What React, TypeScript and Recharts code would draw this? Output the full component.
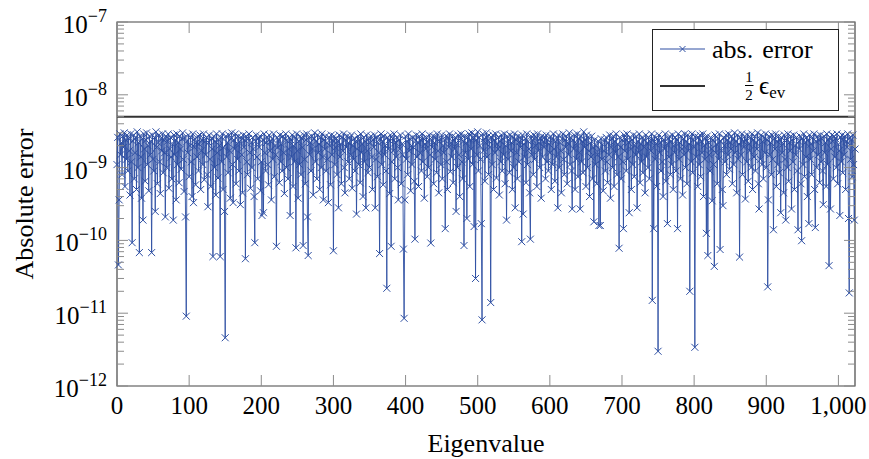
import { LineChart, Line, XAxis, YAxis, ReferenceLine, ReferenceArea, Legend } from "recharts";

// absolute error per eigenvalue (index 0..1023), in units of 1e-9
const errBlock0 = [
  1.1, 2.6, 0.046, 0.36, 2.9, 1.5, 2.2, 0.8, 2.7, 1.9, 3.0, 0.55, 2.4, 1.3, 2.8, 0.9,
  2.5, 1.7, 0.42, 2.9, 1.2, 0.093, 2.3, 2.8, 0.7, 1.6, 2.6, 0.5, 3.1, 1.0, 2.2, 0.068,
  2.7, 1.4, 0.38, 2.5, 0.19, 2.9, 1.8, 0.65, 2.4, 3.0, 1.1, 2.0, 0.48, 2.7, 1.5, 2.3,
  0.068, 2.8, 1.3, 0.9, 2.6, 0.25, 3.1, 1.9, 0.6, 2.2, 2.8, 1.2, 0.44, 2.5, 1.7, 2.9,
  0.85, 2.4, 1.6, 0.21, 2.7, 1.0, 2.3, 2.9, 0.52, 1.8, 2.6, 1.4, 0.7, 2.1, 0.19, 2.8,
  1.5, 2.4, 0.36, 2.9, 1.1, 2.2, 0.62, 2.7, 1.8, 0.95, 2.5, 3.0, 1.3, 0.47, 2.6, 0.21,
  0.0091, 2.3, 1.6, 2.8, 0.75, 2.0, 2.6, 1.2, 0.4, 2.9, 0.33, 1.9, 2.5, 0.58, 2.2, 1.4,
  2.7, 0.9, 2.1, 2.8, 0.5, 1.7, 2.4, 1.1, 2.9, 0.68, 2.3, 1.5, 2.6, 0.8, 0.29, 2.2,
];
const errBlock1 = [
  2.8, 1.3, 0.55, 2.5, 1.8, 0.06, 2.7, 1.0, 2.3, 0.42, 2.9, 1.6, 0.72, 2.4, 2.0, 0.06,
  2.6, 1.2, 2.9, 0.5, 1.9, 0.25, 0.0046, 2.7, 1.4, 2.2, 0.85, 2.8, 1.7, 0.38, 2.5, 3.0,
  1.1, 0.33, 2.4, 1.8, 2.9, 0.6, 2.1, 1.3, 2.7, 0.9, 2.3, 0.31, 2.6, 1.5, 0.45, 2.8,
  1.9, 2.4, 0.056, 2.7, 1.2, 0.8, 2.5, 2.9, 1.6, 0.52, 2.2, 1.0, 2.6, 1.8, 0.4, 0.093,
  2.3, 2.8, 1.4, 0.7, 2.5, 1.9, 2.7, 0.48, 1.2, 0.22, 2.4, 0.24, 2.9, 1.6, 0.9, 2.2,
  2.6, 1.1, 0.58, 2.8, 1.7, 2.3, 0.36, 2.5, 1.3, 2.9, 0.75, 2.0, 1.5, 0.083, 2.6, 1.9,
  2.4, 0.62, 2.8, 1.2, 2.1, 0.9, 2.7, 1.6, 0.44, 2.5, 2.9, 1.0, 2.3, 0.7, 1.8, 2.6,
  0.22, 2.4, 1.4, 2.8, 0.55, 2.0, 1.2, 2.6, 0.079, 2.9, 1.7, 0.38, 2.3, 1.1, 2.7, 0.8,
];
const errBlock2 = [
  2.5, 1.9, 0.085, 2.8, 1.3, 0.6, 2.4, 2.9, 0.21, 0.062, 2.6, 1.5, 2.2, 0.9, 2.7, 1.8,
  0.42, 2.5, 3.0, 1.2, 2.3, 0.7, 2.8, 1.6, 2.1, 0.5, 2.6, 1.0, 2.9, 1.4, 0.36, 2.4,
  1.8, 2.7, 0.9, 2.2, 1.3, 0.33, 2.6, 2.0, 0.58, 2.8, 1.5, 2.4, 0.072, 2.7, 1.1, 1.9,
  2.5, 0.8, 2.3, 0.28, 2.8, 1.4, 2.1, 0.6, 2.6, 1.7, 2.9, 1.0, 0.45, 2.4, 1.9, 2.7,
  1.2, 2.2, 0.7, 2.6, 1.5, 2.8, 0.52, 2.0, 1.3, 2.5, 0.9, 2.3, 0.23, 1.8, 2.7, 1.1,
  2.4, 0.62, 2.9, 1.6, 2.1, 0.4, 2.6, 1.2, 2.3, 0.28, 2.8, 1.7, 0.85, 2.5, 1.0, 2.2,
  2.7, 1.4, 0.5, 2.4, 1.9, 2.8, 0.28, 1.3, 2.6, 0.75, 2.2, 1.6, 0.066, 2.5, 2.9, 1.1,
  2.3, 0.58, 2.7, 1.5, 2.0, 0.9, 0.022, 2.6, 1.8, 2.4, 0.44, 2.8, 0.083, 1.2, 2.5, 1.7,
];
const errBlock3 = [
  2.9, 0.7, 2.2, 1.4, 2.6, 1.0, 0.36, 2.4, 1.8, 2.8, 0.6, 2.1, 1.5, 0.076, 0.0085, 0.36,
  2.7, 1.3, 2.3, 0.8, 2.9, 1.7, 2.5, 0.48, 2.0, 1.1, 2.6, 1.9, 0.65, 0.104, 2.4, 2.8,
  1.4, 2.2, 0.55, 2.7, 1.6, 2.4, 0.9, 2.9, 1.2, 2.5, 0.38, 2.1, 1.8, 2.6, 0.75, 2.3,
  1.0, 2.8, 1.5, 0.092, 2.4, 1.9, 2.7, 0.6, 2.2, 1.3, 2.6, 0.85, 2.9, 1.7, 0.45, 2.3,
  2.5, 1.1, 2.8, 0.7, 2.0, 1.6, 2.4, 0.145, 2.7, 1.2, 0.5, 2.6, 1.9, 2.9, 0.88, 2.2,
  1.4, 2.7, 0.62, 2.4, 1.8, 2.6, 0.25, 2.1, 1.0, 2.8, 1.5, 0.4, 2.5, 2.9, 1.2, 0.7,
  2.3, 0.085, 2.7, 1.6, 2.2, 0.2, 2.6, 1.3, 2.9, 0.55, 2.4, 1.8, 3.0, 1.1, 2.5, 0.155,
  2.8, 0.03, 2.4, 1.5, 3.1, 0.9, 2.6, 2.0, 1.3, 0.17, 0.0081, 2.9, 1.7, 2.5, 0.65, 2.2,
];
const errBlock4 = [
  3.0, 1.4, 2.7, 0.8, 2.3, 1.9, 0.014, 2.6, 1.1, 2.8, 0.5, 2.4, 1.6, 2.9, 0.72, 2.1,
  1.8, 2.6, 0.42, 2.3, 1.2, 2.8, 0.9, 2.5, 1.5, 2.9, 0.6, 2.0, 0.19, 2.7, 1.3, 2.4,
  0.85, 2.8, 1.7, 2.2, 0.5, 2.6, 1.0, 2.9, 0.28, 2.4, 1.6, 0.7, 2.7, 1.2, 2.3, 1.9,
  2.6, 0.096, 2.8, 0.23, 2.1, 1.4, 2.5, 0.62, 2.9, 1.1, 2.3, 1.8, 0.45, 0.104, 2.7, 1.5,
  2.4, 0.8, 2.8, 1.3, 2.0, 2.6, 0.55, 2.9, 1.7, 2.2, 1.0, 2.5, 0.38, 2.7, 1.4, 2.3,
  1.9, 2.6, 0.7, 2.8, 1.2, 2.4, 0.9, 2.1, 1.6, 2.7, 0.5, 2.5, 1.1, 2.9, 1.8, 0.65,
  2.3, 1.4, 2.6, 0.28, 2.8, 1.0, 2.2, 1.7, 0.45, 2.5, 2.9, 1.3, 0.8, 2.4, 1.9, 2.7,
  0.6, 2.2, 1.5, 3.0, 1.1, 2.6, 0.9, 0.27, 2.4, 1.8, 2.8, 0.5, 2.1, 1.3, 2.9, 0.75,
];
const errBlock5 = [
  2.5, 1.6, 0.27, 2.7, 1.2, 2.3, 0.85, 3.1, 1.9, 2.4, 0.55, 2.8, 1.0, 2.6, 1.7, 0.4,
  2.2, 1.4, 2.7, 0.7, 1.9, 0.18, 2.4, 1.1, 2.0, 0.6, 1.5, 2.3, 0.16, 1.8, 0.16, 2.5,
  1.3, 2.1, 0.48, 1.7, 2.4, 0.9, 2.6, 1.2, 0.62, 2.2, 1.5, 2.8, 0.38, 1.9, 2.5, 1.0,
  2.7, 0.55, 2.3, 1.6, 2.9, 0.8, 2.1, 1.4, 0.078, 2.6, 1.9, 0.7, 2.4, 1.2, 0.145, 2.8,
  1.7, 2.5, 0.9, 2.9, 1.3, 2.2, 0.24, 2.6, 1.8, 0.5, 2.4, 1.1, 2.8, 0.75, 2.0, 1.5,
  2.7, 0.28, 2.3, 1.6, 2.9, 0.62, 2.1, 1.2, 2.6, 0.85, 2.4, 1.9, 0.45, 2.8, 1.4, 2.2,
  1.0, 2.6, 0.7, 2.3, 1.7, 2.9, 0.015, 2.4, 0.145, 2.7, 1.3, 2.1, 0.55, 2.5, 0.003, 2.8,
  1.6, 2.2, 0.9, 2.6, 1.2, 0.4, 2.4, 1.8, 2.9, 0.65, 2.1, 0.17, 2.5, 1.4, 2.7, 0.8,
];
const errBlock6 = [
  2.3, 1.1, 2.8, 0.5, 2.0, 1.6, 2.6, 0.9, 2.4, 0.145, 2.9, 1.3, 2.2, 0.7, 2.7, 1.8,
  0.42, 2.5, 1.5, 2.9, 1.0, 2.3, 0.6, 2.8, 1.7, 2.1, 0.02, 2.6, 1.2, 2.9, 0.85, 2.4,
  1.9, 0.0034, 2.7, 1.4, 2.2, 0.55, 2.6, 1.1, 2.8, 0.75, 2.3, 1.6, 2.9, 0.4, 2.0, 1.3,
  2.5, 0.125, 2.7, 0.062, 2.2, 1.5, 0.9, 2.6, 1.8, 0.35, 2.4, 1.1, 0.044, 2.8, 1.6, 2.1,
  0.6, 2.5, 1.3, 2.9, 0.075, 2.3, 1.7, 0.5, 0.3, 2.6, 2.0, 1.2, 2.8, 0.8, 2.4, 1.5,
  2.9, 0.95, 2.2, 1.8, 2.7, 0.6, 2.5, 1.1, 3.0, 1.6, 2.3, 0.45, 2.8, 1.3, 2.1, 0.059,
  2.6, 1.5, 2.9, 0.8, 2.3, 1.9, 2.7, 0.37, 2.4, 1.2, 2.8, 0.65, 2.1, 1.7, 2.6, 1.0,
  2.9, 0.5, 2.4, 1.4, 2.7, 0.9, 2.2, 1.8, 3.0, 0.6, 0.27, 2.5, 1.3, 2.8, 1.1, 2.3,
];
const errBlock7 = [
  0.7, 2.6, 1.6, 2.9, 1.0, 2.4, 0.023, 0.36, 2.7, 1.5, 2.2, 0.8, 2.8, 1.3, 0.14, 2.5,
  1.8, 2.9, 0.55, 2.3, 1.1, 2.7, 0.85, 2.4, 0.24, 2.6, 1.6, 2.1, 0.45, 2.8, 1.3, 0.19,
  2.5, 1.0, 2.9, 0.65, 2.2, 1.7, 2.7, 0.27, 2.4, 1.2, 2.8, 0.5, 2.0, 1.5, 2.6, 0.9,
  0.14, 2.3, 1.8, 2.7, 0.6, 0.099, 2.5, 1.1, 2.9, 0.75, 2.2, 1.4, 2.6, 0.4, 2.4, 0.17,
  2.8, 1.3, 2.1, 0.8, 2.6, 1.7, 2.9, 0.5, 0.15, 2.3, 1.0, 2.7, 1.5, 2.4, 0.62, 2.8,
  1.2, 2.5, 0.9, 0.31, 2.7, 1.6, 2.2, 0.55, 2.9, 1.1, 2.4, 0.045, 2.6, 0.27, 1.8, 2.8,
  2.3, 0.7, 2.7, 1.4, 2.5, 1.0, 2.9, 0.6, 2.1, 1.7, 0.22, 2.6, 1.2, 2.8, 0.85, 2.4,
  1.5, 2.7, 0.5, 2.3, 1.9, 2.9, 0.2, 0.019, 2.6, 1.3, 2.4, 0.75, 2.8, 1.1, 0.19, 1.8,
];

const halfEpsEv = 5e-9;
const xTicks = [0, 100, 200, 300, 400, 500, 600, 700, 800, 900, 1000];
const yDecades = [1e-12, 1e-11, 1e-10, 1e-9, 1e-8, 1e-7];
const yMinorSteps = [2, 3, 4, 5, 6, 7, 8, 9];

const errors = [
  ...errBlock0, ...errBlock1, ...errBlock2, ...errBlock3,
  ...errBlock4, ...errBlock5, ...errBlock6, ...errBlock7,
].map((v) => v * 1e-9);
const data = errors.map((err, i) => ({ idx: i, err }));

const yTicks = yDecades.flatMap((d, i) =>
  i === yDecades.length - 1 ? [d] : [d, ...yMinorSteps.map((m) => m * d)]
);

const FONT = "'Liberation Serif', 'Times New Roman', Times, 'DejaVu Serif', 'Noto Serif', serif";
const BLUE = "#2e4fa3";
const TICK = "#8c8c8c";
const FRAME = "#454545";
const PLOT_L = 117;
const PLOT_R = 855;
const PLOT_T = 22;
const PLOT_B = 386;

const txt = { fontFamily: FONT, fill: "#000" };

function XTick({ x, payload }: any) {
  return (
    <g>
      <line x1={x} x2={x} y1={PLOT_B} y2={PLOT_B - 11} stroke={TICK} strokeWidth={1} />
      <line x1={x} x2={x} y1={PLOT_T} y2={PLOT_T + 11} stroke={TICK} strokeWidth={1} />
      <text x={x} y={414} textAnchor="middle" style={{ ...txt, fontSize: 25 }}>
        {Number(payload.value).toLocaleString("en-US")}
      </text>
    </g>
  );
}

function YTick({ y, payload }: any) {
  const v = payload.value as number;
  const major = yDecades.includes(v);
  const len = major ? 11 : 7;
  return (
    <g>
      <line x1={PLOT_L} x2={PLOT_L + len} y1={y} y2={y} stroke={TICK} strokeWidth={1} />
      <line x1={PLOT_R} x2={PLOT_R - len} y1={y} y2={y} stroke={TICK} strokeWidth={1} />
      {major && (
        <text x={107} y={y + 11} textAnchor="end" style={{ ...txt, fontSize: 25 }}>
          10
          <tspan dy={-11} style={{ fontSize: 18 }}>
            {"\u2212" + Math.abs(Math.round(Math.log10(v)))}
          </tspan>
        </text>
      )}
    </g>
  );
}

function XMark({ cx, cy, size = 3.5 }: { cx: number; cy: number; size?: number }) {
  return (
    <path
      d={`M${cx - size},${cy - size}L${cx + size},${cy + size}M${cx - size},${cy + size}L${cx + size},${cy - size}`}
      stroke={BLUE}
      strokeWidth={1}
      fill="none"
    />
  );
}

function LegendBox() {
  return (
    <div style={{ width: 187, height: 82, border: "1px solid #222", boxSizing: "border-box", background: "#fff" }}>
      <svg width={185} height={80} style={{ display: "block" }}>
        <line x1={7} x2={52} y1={19} y2={19} stroke={BLUE} strokeWidth={1} />
        <XMark cx={29.5} cy={19} size={3} />
        <text x={59} y={28} style={{ ...txt, fontSize: 26 }}>
          abs.<tspan dx={9}>error</tspan>
        </text>
        <line x1={7} x2={52} y1={56} y2={56} stroke="#333" strokeWidth={2} />
        <text x={96} y={52} textAnchor="middle" style={{ ...txt, fontSize: 15 }}>1</text>
        <line x1={92} x2={100.5} y1={55.5} y2={55.5} stroke="#000" strokeWidth={1} />
        <text x={96} y={70} textAnchor="middle" style={{ ...txt, fontSize: 15 }}>2</text>
        <text x={106} y={64} style={{ ...txt, fontSize: 25 }}>
          {"\u03f5"}
          <tspan dy={4} style={{ fontSize: 17 }}>ev</tspan>
        </text>
      </svg>
    </div>
  );
}

export default function App() {
  return (
    <div style={{ position: "absolute", left: 0, top: 0, background: "#fff", fontFamily: FONT }}>
      <LineChart width={869} height={459} data={data} margin={{ top: 22, right: 14, bottom: 0, left: 0 }}>
        <XAxis
          dataKey="idx"
          type="number"
          domain={[0, 1023]}
          ticks={xTicks}
          interval={0}
          height={73}
          axisLine={false}
          tickLine={false}
          tick={<XTick />}
          label={{ value: "Eigenvalue", position: "insideBottom", offset: 7, style: { ...txt, fontSize: 26 } }}
        />
        <YAxis
          type="number"
          scale="log"
          domain={[1e-12, 1e-7]}
          ticks={yTicks}
          interval={0}
          width={117}
          axisLine={false}
          tickLine={false}
          tick={<YTick />}
          label={{
            value: "Absolute error",
            angle: -90,
            position: "insideLeft",
            offset: 24,
            style: { ...txt, textAnchor: "middle", fontSize: 26 },
          }}
        />
        <ReferenceArea x1={0} x2={1023} y1={1e-12} y2={1e-7} fill="none" stroke={FRAME} strokeWidth={1.2} />
        <ReferenceLine y={halfEpsEv} stroke="#333" strokeWidth={2} />
        <Line
          dataKey="err"
          type="linear"
          stroke={BLUE}
          strokeWidth={0.9}
          isAnimationActive={false}
          dot={(p: any) => <XMark key={`m-${p.index}`} cx={p.cx} cy={p.cy} />}
          activeDot={false}
        />
        <Legend
          layout="horizontal"
          align="center"
          verticalAlign="middle"
          content={() => <LegendBox />}
          wrapperStyle={{ left: 652, top: 29, width: 187, height: 82 }}
        />
      </LineChart>
    </div>
  );
}
